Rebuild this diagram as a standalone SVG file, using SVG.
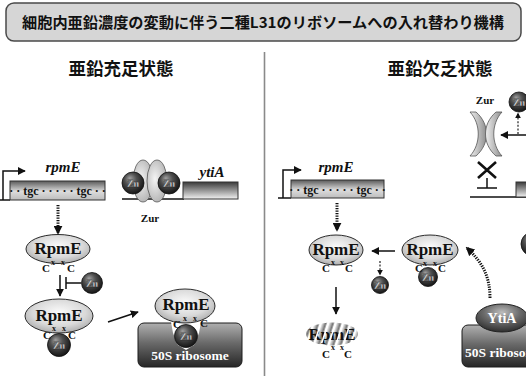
<svg xmlns="http://www.w3.org/2000/svg" width="526" height="376" viewBox="0 0 526 376">
  <defs>
    <style>
      .jp { font-family: "Noto Sans CJK JP", "Noto Sans", sans-serif; font-weight: bold; fill: #111; }
      .serif { font-family: "Liberation Serif", "DejaVu Serif", serif; font-weight: bold; fill: #111; }
      .gene { font-style: italic; font-size: 15px; text-anchor: middle; }
      .tgc { font-size: 12px; text-anchor: middle; }
      .rp { font-size: 17px; text-anchor: middle; }
      .cys { font-size: 11px; text-anchor: middle; }
      .xs { font-size: 8px; text-anchor: middle; }
      .zn { font-family: "Liberation Serif", "DejaVu Serif", serif; font-weight: bold; font-size: 10px; fill: #e4e4e4; text-anchor: middle; stroke: #222; stroke-width: 0.3; }
      .wt { font-family: "Liberation Serif", "DejaVu Serif", serif; font-weight: bold; fill: #fff; }
      .line { stroke: #111; stroke-width: 1.5; fill: none; }
      .dots { stroke: #111; stroke-width: 3; stroke-dasharray: 1.3 1.2; fill: none; }
      .dash { stroke: #222; stroke-width: 1.2; stroke-dasharray: 2 1.6; fill: none; }
      .rpmE { fill: url(#rpGrad); stroke: #2a2a2a; stroke-width: 1; }
      .box { stroke: #333; stroke-width: 1; }
      .ribo { fill: url(#riboGrad); stroke: #1c1c1c; stroke-width: 1; }
    </style>
    <radialGradient id="rpGrad" cx="50%" cy="40%" r="65%">
      <stop offset="0" stop-color="#fbfbfb"/>
      <stop offset="0.6" stop-color="#d9d9d9"/>
      <stop offset="1" stop-color="#a4a4a4"/>
    </radialGradient>
    <radialGradient id="znGrad" cx="45%" cy="40%" r="60%" fx="35%" fy="28%">
      <stop offset="0" stop-color="#a0a0a0"/>
      <stop offset="0.45" stop-color="#505050"/>
      <stop offset="1" stop-color="#151515"/>
    </radialGradient>
    <linearGradient id="geneGrad" x1="0" y1="0" x2="0" y2="1">
      <stop offset="0" stop-color="#5a5a5a"/>
      <stop offset="0.55" stop-color="#dcdcdc"/>
      <stop offset="1" stop-color="#bcbcbc"/>
    </linearGradient>
    <linearGradient id="ytiGrad" x1="0" y1="0" x2="0" y2="1">
      <stop offset="0" stop-color="#3a3a3a"/>
      <stop offset="1" stop-color="#f2f2f2"/>
    </linearGradient>
    <linearGradient id="riboGrad" x1="0" y1="0" x2="0" y2="1">
      <stop offset="0" stop-color="#b0b0b0"/>
      <stop offset="0.45" stop-color="#6a6a6a"/>
      <stop offset="1" stop-color="#262626"/>
    </linearGradient>
    <radialGradient id="zurGrad" cx="40%" cy="45%" r="70%">
      <stop offset="0" stop-color="#f4f4f4"/>
      <stop offset="1" stop-color="#a8a8a8"/>
    </radialGradient>
    <linearGradient id="zurOpen" x1="0" y1="0" x2="1" y2="0">
      <stop offset="0" stop-color="#eeeeee"/>
      <stop offset="1" stop-color="#8e8e8e"/>
    </linearGradient>
    <radialGradient id="ytiAGrad" cx="50%" cy="30%" r="70%">
      <stop offset="0" stop-color="#bdbdbd"/>
      <stop offset="0.5" stop-color="#6a6a6a"/>
      <stop offset="1" stop-color="#2e2e2e"/>
    </radialGradient>
    <linearGradient id="stripeGrad" x1="0" y1="0" x2="1" y2="0">
      <stop offset="0" stop-color="#f0f0f0"/>
      <stop offset="1" stop-color="#555"/>
    </linearGradient>
    <pattern id="stripes" width="7" height="40" patternUnits="userSpaceOnUse" patternTransform="rotate(18)">
      <rect width="7" height="40" fill="#fff"/>
      <rect width="4.5" height="40" fill="url(#stripeGrad)"/>
    </pattern>
    <marker id="ah" viewBox="0 0 10 10" refX="9" refY="5" markerWidth="8" markerHeight="8" markerUnits="userSpaceOnUse" orient="auto">
      <path d="M0,0 L10,5 L0,10 z" fill="#111"/>
    </marker>
    <marker id="ahBig" viewBox="0 0 10 10" refX="8" refY="5" markerWidth="9" markerHeight="9" markerUnits="userSpaceOnUse" orient="auto">
      <path d="M0,0 L10,5 L0,10 z" fill="#111"/>
    </marker>
    <marker id="ahSmall" viewBox="0 0 10 10" refX="9" refY="5" markerWidth="6" markerHeight="6" markerUnits="userSpaceOnUse" orient="auto">
      <path d="M0,0 L10,5 L0,10 z" fill="#111"/>
    </marker>
  </defs>

  <rect width="526" height="376" fill="#fff"/>

  <!-- title banner -->
  <g id="title">
    <rect x="6" y="3" width="515" height="38" rx="8" fill="#d6d6d6" stroke="#4a4a4a" stroke-width="1.5"/>
    <text class="jp" x="263" y="28" font-size="15" text-anchor="middle" textLength="482" lengthAdjust="spacingAndGlyphs">細胞内亜鉛濃度の変動に伴う二種L31のリボソームへの入れ替わり機構</text>
  </g>

  <!-- panel divider -->
  <line x1="264.5" y1="52" x2="264.5" y2="376" stroke="#8a8a8a" stroke-width="1.6"/>

  <g id="header-sufficient">
    <text class="jp" x="121" y="75" font-size="17.5" text-anchor="middle">亜鉛充足状態</text>
  </g>
  <g id="header-deficient">
    <text class="jp" x="440" y="75" font-size="17.5" text-anchor="middle">亜鉛欠乏状態</text>
  </g>

  <!-- ===== zinc-sufficient side ===== -->
  <g id="rpmE-gene-left">
    <line class="line" x1="0" y1="200" x2="10" y2="200"/>
    <path class="line" d="M3,200 V171 H25" marker-end="url(#ah)"/>
    <rect class="box" x="10" y="181" width="95" height="19" fill="url(#geneGrad)"/>
    <text class="serif gene" x="63" y="172">rpmE</text>
    <text class="serif tgc" x="57.5" y="195">· · tgc · · · · · tgc · ·</text>
  </g>

  <g id="zur-ytiA-left">
    <line class="line" x1="122" y1="199" x2="184" y2="199"/>
    <ellipse cx="143" cy="181" rx="10" ry="21" fill="url(#zurGrad)" stroke="#555" stroke-width="0.8"/>
    <ellipse cx="157" cy="181" rx="10" ry="21" fill="url(#zurGrad)" stroke="#555" stroke-width="0.8"/>
    <circle cx="133" cy="183" r="11" fill="url(#znGrad)" stroke="#111" stroke-width="0.8"/>
    <text class="zn" x="133" y="186.5">Zn</text>
    <circle cx="169" cy="183" r="11" fill="url(#znGrad)" stroke="#111" stroke-width="0.8"/>
    <text class="zn" x="169" y="186.5">Zn</text>
    <rect class="box" x="183" y="182" width="55" height="17" fill="url(#ytiGrad)"/>
    <text class="serif gene" x="212" y="177" font-size="14">ytiA</text>
    <text class="serif" x="150" y="222" font-size="11" text-anchor="middle">Zur</text>
  </g>

  <g id="rpmE-apo-left">
    <ellipse class="rpmE" cx="58" cy="249" rx="32" ry="14.5"/>
    <text class="serif rp" x="58" y="254">RpmE</text>
    <text class="serif cys" x="46" y="272">C</text>
    <text class="serif cys" x="71" y="272">C</text>
    <text class="serif xs" x="53" y="265">x</text>
    <text class="serif xs" x="63" y="265">x</text>
  </g>

  <g id="zn-free-left">
    <circle cx="92" cy="283" r="10.5" fill="url(#znGrad)" stroke="#111" stroke-width="0.8"/>
    <text class="zn" x="92" y="286.5">Zn</text>
  </g>

  <g id="rpmE-zn-left">
    <ellipse class="rpmE" cx="59" cy="316" rx="34" ry="17"/>
    <text class="serif rp" x="59" y="321" font-size="18">RpmE</text>
    <circle cx="59" cy="345" r="11.5" fill="url(#znGrad)" stroke="#111" stroke-width="0.8"/>
    <text class="zn" x="59" y="349">Zn</text>
    <text class="serif cys" x="47" y="339">C</text>
    <text class="serif cys" x="72" y="339">C</text>
    <text class="serif xs" x="54" y="331">x</text>
    <text class="serif xs" x="64" y="331">x</text>
  </g>

  <g id="ribosome-left">
    <rect class="ribo" x="138" y="323" width="104" height="44" rx="6"/>
    <path d="M171,322 L173,333 L178,345 L186,350 L194,345 L199,333 L201,322 Z" fill="#fff"/>
    <ellipse class="rpmE" cx="185" cy="306" rx="30" ry="17"/>
    <text class="serif rp" x="186" y="310">RpmE</text>
    <circle cx="186" cy="336" r="11.5" fill="url(#znGrad)" stroke="#111" stroke-width="0.8"/>
    <text class="zn" x="186" y="340">Zn</text>
    <text class="serif cys" x="177" y="328">C</text>
    <text class="serif cys" x="204" y="327">C</text>
    <text class="serif xs" x="185" y="321">x</text>
    <text class="serif xs" x="195" y="321">x</text>
    <text class="wt" x="190" y="360" font-size="13.5" text-anchor="middle">50S ribosome</text>
  </g>

  <!-- ===== zinc-deficient side ===== -->
  <g id="zur-open-right">
    <path d="M470,112 L476,112 C490,124 490,144 476,156 L470,156 C481,144 481,124 470,112 Z" fill="url(#zurOpen)" stroke="#555" stroke-width="0.8"/>
    <path d="M502,112 L496,112 C482,124 482,144 496,156 L502,156 C491,144 491,124 502,112 Z" fill="url(#zurOpen)" stroke="#555" stroke-width="0.8"/>
    <text class="serif" x="485" y="104" font-size="11" text-anchor="middle">Zur</text>
    <circle cx="519" cy="102" r="10" fill="url(#znGrad)" stroke="#111" stroke-width="0.8"/>
    <text class="zn" x="519" y="105.5">Zn</text>
  </g>

  <g id="ytiA-gene-right">
    <line class="line" x1="470" y1="197" x2="526" y2="197"/>
    <rect class="box" x="516" y="182" width="20" height="15" fill="url(#ytiGrad)"/>
    <path d="M478,162 L496,178 M496,162 L478,178" stroke="#111" stroke-width="2.6"/>
    <path class="line" d="M487,178 V188 M477,188 H497"/>
  </g>

  <g id="rpmE-gene-right">
    <line class="line" x1="278" y1="198" x2="291" y2="198"/>
    <path class="line" d="M283,198 V170 H301" marker-end="url(#ah)"/>
    <rect class="box" x="291" y="180" width="93" height="18" fill="url(#geneGrad)"/>
    <text class="serif gene" x="336" y="172">rpmE</text>
    <text class="serif tgc" x="337.5" y="193.5">· · tgc · · · · · tgc · ·</text>
  </g>

  <g id="rpmE-apo-right">
    <ellipse class="rpmE" cx="336" cy="250" rx="27" ry="15"/>
    <text class="serif rp" x="336" y="255" font-size="16">RpmE</text>
    <text class="serif cys" x="326" y="272">C</text>
    <text class="serif cys" x="349" y="272">C</text>
    <text class="serif xs" x="333" y="265">x</text>
    <text class="serif xs" x="342" y="265">x</text>
  </g>

  <g id="zn-released-right">
    <circle cx="380" cy="285" r="8.5" fill="url(#znGrad)" stroke="#111" stroke-width="0.8"/>
    <text class="zn" x="380" y="288.5" font-size="9">Zn</text>
  </g>

  <g id="rpmE-zn-right">
    <ellipse class="rpmE" cx="430" cy="250" rx="28" ry="15"/>
    <text class="serif rp" x="430" y="254.5" font-size="16">RpmE</text>
    <circle cx="428" cy="277" r="9.5" fill="url(#znGrad)" stroke="#111" stroke-width="0.8"/>
    <text class="zn" x="428" y="280.5" font-size="9">Zn</text>
    <text class="serif cys" x="419" y="272">C</text>
    <text class="serif cys" x="442" y="272">C</text>
    <text class="serif xs" x="425" y="265.5">x</text>
    <text class="serif xs" x="435" y="265.5">x</text>
  </g>

  <g id="zn-edge-right">
    <circle cx="533" cy="244" r="12" fill="url(#znGrad)" stroke="#111" stroke-width="0.8"/>
  </g>

  <g id="rpmE-degraded">
    <ellipse cx="332" cy="334" rx="26" ry="11.5" fill="url(#stripes)"/>
    <text class="serif rp" x="332" y="340" font-size="15">RpmE</text>
    <g stroke="#fff" stroke-width="1.6" transform="rotate(18 332 334)">
      <line x1="318" y1="322" x2="318" y2="346"/>
      <line x1="325" y1="322" x2="325" y2="346"/>
      <line x1="332" y1="322" x2="332" y2="346"/>
      <line x1="339" y1="322" x2="339" y2="346"/>
      <line x1="346" y1="322" x2="346" y2="346"/>
    </g>
    <text class="serif cys" x="326" y="358">C</text>
    <text class="serif cys" x="348" y="358">C</text>
    <text class="serif xs" x="333" y="350">x</text>
    <text class="serif xs" x="342" y="350">x</text>
  </g>

  <g id="ribosome-right">
    <rect class="ribo" x="462" y="325" width="80" height="42" rx="6"/>
    <ellipse cx="502" cy="318" rx="26" ry="14" fill="url(#ytiAGrad)" stroke="#222" stroke-width="1"/>
    <text class="wt" x="502" y="323" font-size="14" text-anchor="middle">YtiA</text>
    <text class="wt" x="465" y="357" font-size="13.5">50S ribosome</text>
  </g>

  <!-- connectors -->
  <g id="connectors">
    <line class="dots" x1="58" y1="205" x2="58" y2="233" marker-end="url(#ahBig)"/>
    <line class="line" x1="60" y1="275" x2="60" y2="296" marker-end="url(#ah)"/>
    <path class="line" d="M66,277 V289 M66,283 H81"/>
    <line class="line" x1="108" y1="322" x2="138" y2="312" stroke-width="1.8" marker-end="url(#ah)"/>

    <line class="dots" x1="337" y1="203" x2="337" y2="230" marker-end="url(#ahBig)"/>
    <line class="line" x1="395" y1="251" x2="372" y2="251" marker-end="url(#ah)"/>
    <line class="dash" x1="380" y1="261" x2="380" y2="275" marker-end="url(#ahSmall)"/>
    <line class="line" x1="336" y1="287" x2="336" y2="314" marker-end="url(#ah)"/>
    <path class="dots" d="M490,298 C490,276 482,262 467,248" marker-end="url(#ahBig)"/>
    <line class="dash" x1="518" y1="134" x2="518" y2="113" marker-end="url(#ahSmall)"/>
    <line class="line" x1="526" y1="135" x2="501" y2="135" marker-end="url(#ah)"/>
  </g>
</svg>
